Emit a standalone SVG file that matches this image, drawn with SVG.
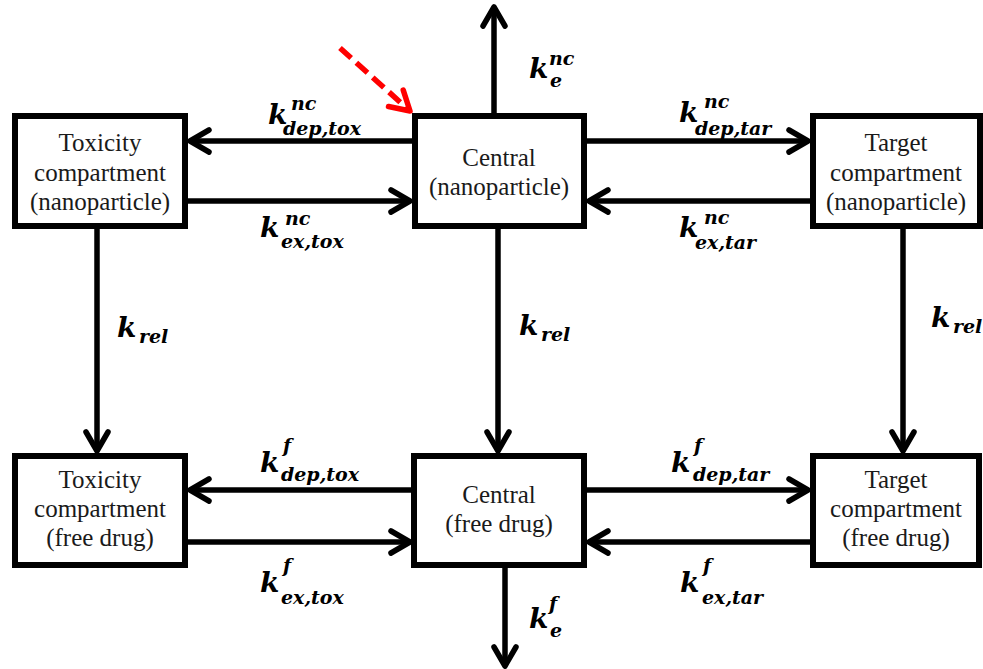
<svg xmlns="http://www.w3.org/2000/svg" width="983" height="669" viewBox="0 0 983 669">
  <style>
    .box { fill: #ffffff; stroke: #000000; stroke-width: 6; stroke-linejoin: miter; }
    .lbl { font-family: "Liberation Serif", "Times New Roman", serif; font-size: 25px; fill: #1a1a1a; text-anchor: middle; }
    .line { fill: none; stroke: #000000; stroke-width: 5.5; }
    .k { font-family: "DejaVu Serif", serif; font-weight: bold; font-style: italic; font-size: 28px; fill: #000000; }
    .s { font-size: 19px; }
    .pointer { fill: none; stroke: #ff0000; stroke-width: 5.5; }
  </style>
  <defs>
    <marker id="head" markerUnits="userSpaceOnUse" viewBox="-30 -16 34 32" refX="0" refY="0" markerWidth="34" markerHeight="32" orient="auto">
      <path d="M -19 -11 L 0 0 L -19 11" fill="none" stroke="#000000" stroke-width="5.5" stroke-linecap="round" stroke-linejoin="round"/>
    </marker>
    <marker id="headRed" markerUnits="userSpaceOnUse" viewBox="-30 -16 34 32" refX="0" refY="0" markerWidth="34" markerHeight="32" orient="auto">
      <path d="M -19 -11 L 0 0 L -19 11" fill="none" stroke="#ff0000" stroke-width="5.5" stroke-linecap="round" stroke-linejoin="round"/>
    </marker>
  </defs>
  <rect width="983" height="669" fill="#ffffff"/>

  <!-- connectors -->
  <g id="connectors">
    <!-- nanoparticle row exchange -->
    <line class="line" x1="412" y1="141" x2="190" y2="141" marker-end="url(#head)"/>
    <line class="line" x1="188" y1="201" x2="410" y2="201" marker-end="url(#head)"/>
    <line class="line" x1="587" y1="141" x2="808" y2="141" marker-end="url(#head)"/>
    <line class="line" x1="810" y1="201" x2="589" y2="201" marker-end="url(#head)"/>
    <!-- free drug row exchange -->
    <line class="line" x1="412" y1="490" x2="190" y2="490" marker-end="url(#head)"/>
    <line class="line" x1="188" y1="542" x2="410" y2="542" marker-end="url(#head)"/>
    <line class="line" x1="587" y1="490" x2="808" y2="490" marker-end="url(#head)"/>
    <line class="line" x1="810" y1="542" x2="589" y2="542" marker-end="url(#head)"/>
    <!-- release -->
    <line class="line" x1="97" y1="228" x2="97" y2="451" marker-end="url(#head)"/>
    <line class="line" x1="498" y1="228" x2="498" y2="451" marker-end="url(#head)"/>
    <line class="line" x1="903" y1="228" x2="903" y2="451" marker-end="url(#head)"/>
    <!-- elimination -->
    <line class="line" x1="494" y1="113" x2="494" y2="7" marker-end="url(#head)"/>
    <line class="line" x1="505" y1="568" x2="505" y2="666" marker-end="url(#head)"/>
    <!-- red dashed pointer -->
    <line class="pointer" x1="340" y1="48" x2="410" y2="111" stroke-dasharray="15 7" marker-end="url(#headRed)"/>
  </g>

  <!-- rate constants: k with superscript and subscript -->
  <g id="rates">
    <text class="k" x="268" y="124">k<tspan class="s" x="291" y="110">nc</tspan><tspan class="s" x="283" y="135">dep,tox</tspan></text>
    <text class="k" x="260" y="237">k<tspan class="s" x="285" y="225">nc</tspan><tspan class="s" x="281" y="248">ex,tox</tspan></text>
    <text class="k" x="679" y="122">k<tspan class="s" x="704" y="108">nc</tspan><tspan class="s" x="695" y="135">dep,tar</tspan></text>
    <text class="k" x="679" y="237">k<tspan class="s" x="704" y="224">nc</tspan><tspan class="s" x="695" y="249">ex,tar</tspan></text>

    <text class="k" x="260" y="472">k<tspan class="s" x="283" y="452">f</tspan><tspan class="s" x="281" y="481">dep,tox</tspan></text>
    <text class="k" x="260" y="592">k<tspan class="s" x="283" y="572">f</tspan><tspan class="s" x="281" y="604">ex,tox</tspan></text>
    <text class="k" x="671" y="472">k<tspan class="s" x="694" y="452">f</tspan><tspan class="s" x="693" y="481">dep,tar</tspan></text>
    <text class="k" x="680" y="592">k<tspan class="s" x="703" y="572">f</tspan><tspan class="s" x="702" y="604">ex,tar</tspan></text>

    <text class="k" x="117" y="337">k<tspan class="s" x="139" y="343">rel</tspan></text>
    <text class="k" x="519" y="335">k<tspan class="s" x="541" y="341">rel</tspan></text>
    <text class="k" x="931" y="327">k<tspan class="s" x="953" y="333">rel</tspan></text>

    <text class="k" x="529" y="78">k<tspan class="s" x="549" y="65">nc</tspan><tspan class="s" x="550" y="87">e</tspan></text>
    <text class="k" x="529" y="628">k<tspan class="s" x="549" y="610">f</tspan><tspan class="s" x="550" y="637">e</tspan></text>
  </g>

  <!-- nanoparticle compartments -->
  <g id="tox-nc">
    <rect class="box" x="15" y="116" width="170" height="110"/>
    <text class="lbl" x="100" y="151">Toxicity</text>
    <text class="lbl" x="100" y="181">compartment</text>
    <text class="lbl" x="100" y="210">(nanoparticle)</text>
  </g>
  <g id="central-nc">
    <rect class="box" x="415" y="116" width="169" height="110"/>
    <text class="lbl" x="499" y="166">Central</text>
    <text class="lbl" x="499" y="195">(nanoparticle)</text>
  </g>
  <g id="target-nc">
    <rect class="box" x="813" y="116" width="167" height="110"/>
    <text class="lbl" x="896" y="151">Target</text>
    <text class="lbl" x="896" y="181">compartment</text>
    <text class="lbl" x="896" y="210">(nanoparticle)</text>
  </g>

  <!-- free drug compartments -->
  <g id="tox-f">
    <rect class="box" x="15" y="456" width="170" height="109"/>
    <text class="lbl" x="100" y="488">Toxicity</text>
    <text class="lbl" x="100" y="517">compartment</text>
    <text class="lbl" x="100" y="546">(free drug)</text>
  </g>
  <g id="central-f">
    <rect class="box" x="414" y="456" width="170" height="109"/>
    <text class="lbl" x="499" y="503">Central</text>
    <text class="lbl" x="499" y="532">(free drug)</text>
  </g>
  <g id="target-f">
    <rect class="box" x="813" y="456" width="166" height="109"/>
    <text class="lbl" x="896" y="488">Target</text>
    <text class="lbl" x="896" y="517">compartment</text>
    <text class="lbl" x="896" y="546">(free drug)</text>
  </g>
</svg>
